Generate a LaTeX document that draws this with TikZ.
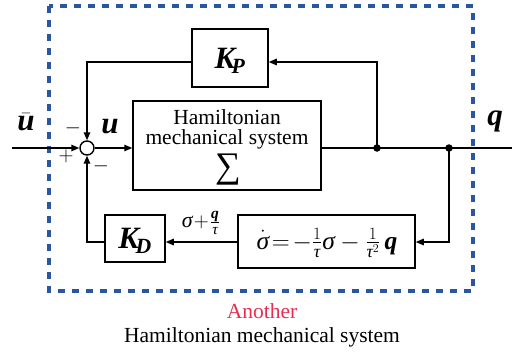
\documentclass[tikz,border=0pt]{standalone}
\usepackage{amsmath}
\usepackage{fontspec}
\setmainfont{Liberation Serif}
\usetikzlibrary{arrows.meta}
\definecolor{dashblue}{RGB}{42,85,160}
\definecolor{capred}{RGB}{232,45,80}
\newcommand{\bv}[1]{\text{\bfseries\itshape #1}}
\newcommand{\gs}{\text{\itshape σ}}
\newcommand{\gt}{\text{\itshape τ}}
\tikzset{
  blk/.style={draw, line width=1.5pt, inner sep=0pt},
  wire/.style={line width=1.4pt},
  arr/.style={wire, -{Triangle[length=8pt,width=6.5pt]}},
  txt/.style={inner sep=0pt, font=\fontsize{21.5}{24}\selectfont},
  big/.style={inner sep=0pt, font=\fontsize{31}{34}\selectfont},
  dotnode/.style={circle, fill, inner sep=0pt, minimum size=7.5pt},
}
\begin{document}
\begin{tikzpicture}[x=1pt,y=-1pt]
\useasboundingbox (0,0) rectangle (512,354);
% outer dashed box
\draw[dashblue, line width=3.6pt, dash pattern=on 7pt off 7pt] (49,6) rectangle (473,291);
% blocks
\node[blk, minimum width=188pt, minimum height=89pt] (ham) at (227,145.5) {};
\node[txt, anchor=base] (h1) at (227,124) {Hamiltonian};
\node[txt, anchor=base] (h2) at (227,144) {mechanical system};
\node[inner sep=0pt, font=\fontsize{36}{38}\selectfont] (sig) at (228,170) {∑};
\node[blk, minimum width=76pt, minimum height=58pt] (kp) at (230,58) {};
\node[big] (kpt) at (230,61) {$\bv{K}_{\!\bv{P}}$};
\node[blk, minimum width=60pt, minimum height=47pt] (kd) at (135,238.5) {};
\node[big] (kdt) at (135,241) {$\bv{K}_{\!\bv{D}}$};
\node[blk, minimum width=177pt, minimum height=53pt] (sb) at (326.5,241.5) {};
\node[inner sep=0pt, font=\fontsize{25.5}{28}\selectfont] (sbt) at (327,243)
  {$\dot{\gs}\!=\!-\frac{1}{\gt}\gs-\frac{1}{\gt^2}\,\bv{q}$};
% summing junction
\node[circle, draw, line width=1.4pt, minimum size=14pt, inner sep=0pt] (sum) at (87,148) {};
% coordinates
\coordinate (in) at (12,148);
\coordinate (out) at (512,148);
\node[dotnode] (d1) at (377,148) {};
\node[dotnode] (d2) at (449,148) {};
\coordinate (c1) at (377,62);
\coordinate (c2) at (87,62);
\coordinate (c3) at (449,242);
\coordinate (c4) at (87,242);
% connectors
\draw[arr] (in) -- (sum.west);
\draw[arr] (sum.east) -- (ham.west |- sum);
\draw[wire] (ham.east |- d1) -- (d1.center) -- (d2.center) -- (out);
\draw[arr] (d1.center) -- (c1) -- (kp.east |- c1);
\draw[arr] (kp.west |- c1) -- (c2) -- (sum.north);
\draw[arr] (d2.center) -- (c3) -- (sb.east |- c3);
\draw[arr] (sb.west |- c3) -- (kd.east |- c3);
\draw[arr] (kd.west |- c4) -- (c4) -- (sum.south);
% labels
\node[big] (ubar) at (26,122) {$\bar{\bv{u}}$};
\node[big] (ul) at (110,127) {$\bv{u}$};
\node[big] (ql) at (495,121) {$\bv{q}$};
\node[txt] (plus) at (66,156) {$+$};
\node[txt] (m1) at (73,128) {$-$};
\node[txt] (m2) at (101,166) {$-$};
\node[inner sep=0pt, font=\fontsize{22}{24}\selectfont] (sl) at (201,223) {$\gs\!+\!\frac{\bv{q}}{\gt}$};
% caption
\node[txt, anchor=base, text=capred] (cap1) at (262,318) {Another};
\node[txt, anchor=base] (cap2) at (262,342) {Hamiltonian mechanical system};
\end{tikzpicture}
\end{document}
